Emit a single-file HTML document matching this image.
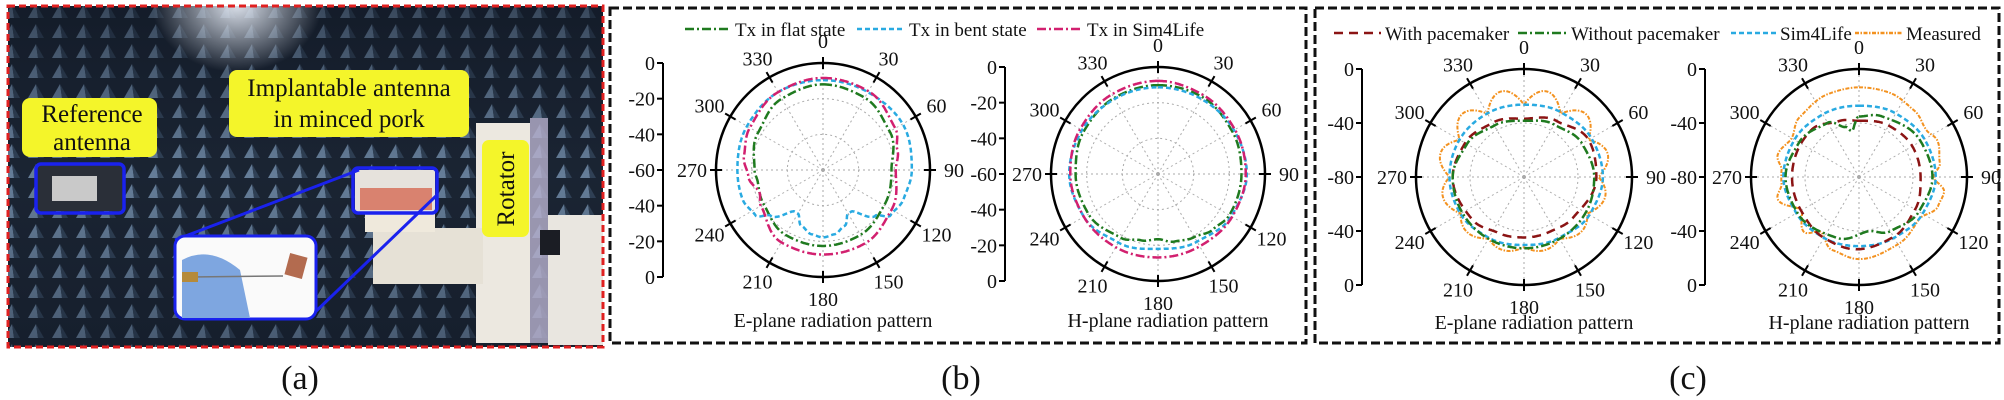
<!DOCTYPE html>
<html><head><meta charset="utf-8"><style>
html,body{margin:0;padding:0;background:#fff;}
svg{display:block;}
text{font-family:"Liberation Serif",serif;fill:#111;}
</style></head><body>
<svg id="s" width="2004" height="400" viewBox="0 0 2004 400" xmlns="http://www.w3.org/2000/svg">
<defs>
<pattern id="pyr" width="24" height="20" patternUnits="userSpaceOnUse">
<rect width="24" height="20" fill="#1c2635"/>
<polygon points="4,18 12,4 14,18" fill="#6f89a6"/>
<polygon points="12,4 20,18 14,18" fill="#34465c"/>
</pattern>
<radialGradient id="glow" cx="237" cy="4" r="85" gradientUnits="userSpaceOnUse" gradientTransform="translate(237 4) scale(1 0.8) translate(-237 -4)">
<stop offset="0" stop-color="#e8eef8" stop-opacity="0.95"/>
<stop offset="1" stop-color="#e8eef8" stop-opacity="0"/>
</radialGradient>
<linearGradient id="shade" x1="0" y1="0" x2="0" y2="1">
<stop offset="0" stop-color="#0d1420" stop-opacity="0.55"/>
<stop offset="0.5" stop-color="#0d1420" stop-opacity="0.1"/>
<stop offset="1" stop-color="#0d1420" stop-opacity="0.4"/>
</linearGradient>
</defs>
<!-- (a) photo -->
<rect x="8" y="6" width="595" height="341" fill="url(#pyr)"/>
<rect x="8" y="6" width="595" height="341" fill="url(#shade)"/>
<rect x="8" y="6" width="595" height="341" fill="url(#glow)"/>
<!-- rotator structure -->
<rect x="530" y="118" width="18" height="225" fill="#b9b3d0" opacity="0.8"/>
<rect x="548" y="215" width="55" height="130" fill="#e9e6e0"/>
<rect x="476" y="123" width="54" height="220" fill="#ece8e0"/>
<rect x="373" y="228" width="110" height="56" fill="#e6e1d6"/>
<rect x="540" y="230" width="20" height="25" fill="#1b1d24"/>
<rect x="365" y="212" width="70" height="20" fill="#efe9dc"/>
<!-- pork box -->
<rect x="355" y="170" width="80" height="42" fill="#e6e2dc"/>
<rect x="360" y="188" width="72" height="22" fill="#d9826f"/>
<!-- reference antenna -->
<rect x="37" y="165" width="85" height="46" fill="#2a2f38"/>
<rect x="52" y="176" width="45" height="25" fill="#c9c9c9"/>
<!-- inset -->
<line x1="175" y1="240" x2="359" y2="170" stroke="#1a22ee" stroke-width="3"/>
<line x1="310" y1="317" x2="437" y2="195" stroke="#1a22ee" stroke-width="3"/>
<rect x="175" y="236" width="141" height="83" rx="10" fill="#fafafa" stroke="#1a22ee" stroke-width="3"/>
<path d="M182,260 Q210,245 240,270 L250,318 L182,318 Z" fill="#7ea6e0"/>
<line x1="190" y1="277" x2="283" y2="276" stroke="#777" stroke-width="1.5"/>
<rect x="287" y="255" width="18" height="22" fill="#b36b4f" transform="rotate(15 296 266)"/>
<rect x="182" y="272" width="16" height="10" fill="#b58a3a"/>
<rect x="36" y="164" width="88" height="49" rx="5" fill="none" stroke="#1a22ee" stroke-width="3.5"/>
<rect x="353" y="168" width="84" height="45" rx="5" fill="none" stroke="#1a22ee" stroke-width="3.5"/>
<!-- yellow labels -->
<rect x="22" y="98" width="135" height="59" rx="8" fill="#f4f52a"/>
<text x="92" y="122" font-size="25" text-anchor="middle">Reference</text>
<text x="92" y="150" font-size="25" text-anchor="middle">antenna</text>
<rect x="229" y="70" width="240" height="67" rx="8" fill="#f4f52a"/>
<text x="349" y="96" font-size="25" text-anchor="middle">Implantable antenna</text>
<text x="349" y="127" font-size="25" text-anchor="middle">in minced pork</text>
<rect x="482" y="140" width="47" height="97" rx="7" fill="#f4f52a"/>
<text x="0" y="0" font-size="25" text-anchor="middle" transform="translate(514 189) rotate(-90)">Rotator</text>
<rect x="8" y="6" width="595" height="341" fill="none" stroke="#e02020" stroke-width="3" stroke-dasharray="7 4"/>
<!-- frames -->
<rect x="610" y="8" width="696" height="335" fill="none" stroke="#111" stroke-width="3" stroke-dasharray="9 4"/>
<rect x="1315" y="8" width="684" height="335" fill="none" stroke="#111" stroke-width="3" stroke-dasharray="9 4"/>
<text x="300" y="389" font-size="34" text-anchor="middle">(a)</text>
<text x="961" y="389" font-size="34" text-anchor="middle">(b)</text>
<text x="1688" y="389" font-size="34" text-anchor="middle">(c)</text>
<g id="plots"></g>
</svg>
<script>
var NS="http://www.w3.org/2000/svg",G=document.getElementById("plots");
function el(t,a,txt){var e=document.createElementNS(NS,t);for(var k in a)e.setAttribute(k,a[k]);if(txt!==undefined)e.textContent=txt;G.appendChild(e);return e;}
var C={g:["#1f7a1f","9 3 2 3"],b:["#29aae1","5 3"],m:["#d2206f","9 3 2 3"],br:["#8b1414","9 6"],o:["#f39220","4 1.5 1.5 1.5"]};
function legendItem(x1,x2,y,c,txt){el("line",{x1:x1,y1:y,x2:x2,y2:y,stroke:C[c][0],"stroke-width":2.5,"stroke-dasharray":C[c][1]});el("text",{x:x2+4,y:y+7,"font-size":19},txt);}
legendItem(685,731,29,"g","Tx in flat state");legendItem(857,905,29,"b","Tx in bent state");legendItem(1037,1083,29,"m","Tx in Sim4Life");
legendItem(1334,1381,33,"br","With pacemaker");legendItem(1518,1567,33,"g","Without pacemaker");legendItem(1731,1776,33,"b","Sim4Life");legendItem(1855,1902,33,"o","Measured");
function interp(p,a){for(var i=0;i<p.length;i++){var a0=p[i][0],r0=p[i][1],n=p[(i+1)%p.length],a1=n[0]+(i==p.length-1?360:0);if(a>=a0&&a<=a1){var u=(a-a0)/(a1-a0);u=(1-Math.cos(u*Math.PI))/2;return r0+(n[1]-r0)*u;}}return p[0][1];}
function curve(cx,cy,R,f,c,w){var d="";for(var a=0;a<=360;a+=0.5){var r=f(a%360)*R,t=a*Math.PI/180;d+=(a?"L":"M")+(cx+r*Math.sin(t)).toFixed(1)+","+(cy-r*Math.cos(t)).toFixed(1);}el("path",{d:d+"Z",fill:"none",stroke:C[c][0],"stroke-width":w||2.5,"stroke-dasharray":C[c][1]});}
function polar(cx,cy,R,barX,labs,grid,title,ty,curves){
 grid.forEach(function(g){el("circle",{cx:cx,cy:cy,r:R*g,fill:"none",stroke:"#aaa","stroke-width":1,"stroke-dasharray":"2 3"});});
 for(var a=0;a<360;a+=30){var t=a*Math.PI/180,s=Math.sin(t),c=Math.cos(t);
  el("line",{x1:cx,y1:cy,x2:cx+R*s,y2:cy-R*c,stroke:"#aaa","stroke-width":1,"stroke-dasharray":"2 3"});
  el("line",{x1:cx+(R-6)*s,y1:cy-(R-6)*c,x2:cx+(R+6)*s,y2:cy-(R+6)*c,stroke:"#000","stroke-width":2});
  el("text",{x:cx+(R+24)*s,y:cy-(R+22)*c+7,"font-size":20,"text-anchor":"middle"},""+a);}
 curves.forEach(function(k){curve(cx,cy,R,k[0],k[1],k[2]);});
 el("circle",{cx:cx,cy:cy,r:R,fill:"none",stroke:"#000","stroke-width":2.5});
 el("line",{x1:barX,y1:cy-R,x2:barX,y2:cy+R,stroke:"#000","stroke-width":2});
 for(var i=0;i<labs.length;i++){var y=cy-R+i*2*R/(labs.length-1);el("line",{x1:barX-6,y1:y,x2:barX,y2:y,stroke:"#000","stroke-width":2});el("text",{x:barX-8,y:y+7,"font-size":20,"text-anchor":"end"},labs[i]);}
 el("text",{x:cx+10,y:ty,"font-size":20,"text-anchor":"middle"},title);}
function P(p){return function(a){return interp(p,a);};}
var bl=["0","-20","-40","-60","-40","-20","0"],cl=["0","-40","-80","-40","0"];
polar(823,170,107,663,bl,[1/3,2/3],"E-plane radiation pattern",327,[
 [P([[0,.80],[30,.78],[60,.72],[90,.64],[120,.66],[150,.70],[180,.71],[210,.70],[240,.64],[260,.62],[270,.64],[300,.70],[330,.77]]),"g"],
 [P([[0,.84],[30,.84],[60,.86],[90,.83],[110,.80],[124,.76],[131,.65],[146,.47],[150,.47],[159,.56],[170,.61],[180,.63],[190,.61],[201,.56],[210,.47],[214,.47],[229,.65],[236,.76],[250,.80],[270,.80],[300,.82],[330,.84]]),"b"],
 [P([[0,.86],[30,.85],[60,.78],[75,.72],[90,.68],[120,.74],[150,.79],[180,.79],[210,.78],[240,.67],[250,.63],[265,.70],[280,.75],[300,.79],[330,.84]]),"m"]]);
polar(1158,174,107,1005,bl,[1/3,2/3],"H-plane radiation pattern",327,[
 [P([[0,.83],[30,.83],[60,.80],[90,.78],[120,.77],[135,.73],[150,.68],[166,.65],[180,.61],[195,.64],[210,.69],[240,.75],[270,.77],[300,.80],[330,.82]]),"g"],
 [P([[0,.81],[30,.81],[60,.82],[90,.83],[120,.79],[150,.73],[180,.70],[210,.74],[240,.80],[270,.83],[300,.82],[330,.81]]),"b"],
 [P([[0,.87],[30,.85],[60,.83],[90,.82],[120,.80],[150,.78],[180,.78],[210,.79],[240,.80],[270,.82],[300,.84],[330,.86]]),"m"]]);
polar(1524,177,108,1362,cl,[.5],"E-plane radiation pattern",329,[
 [function(a){var t=a*Math.PI/180,c=Math.cos(t),s=Math.sin(t);return .67+.03*s*s-.02*(1-c)/2+(.10+.05*c)*Math.abs(Math.sin(6*t));},"o",2],
 [P([[0,.67],[30,.69],[60,.72],[90,.73],[120,.70],[150,.65],[180,.63],[210,.65],[240,.68],[270,.69],[300,.69],[330,.68]]),"b"],
 [P([[0,.54],[30,.60],[60,.69],[90,.67],[130,.59],[155,.56],[180,.56],[205,.57],[230,.62],[270,.66],[300,.63],[330,.58]]),"br"],
 [P([[0,.52],[30,.56],[60,.62],[90,.65],[120,.66],[150,.66],[180,.66],[210,.66],[240,.66],[270,.66],[300,.61],[330,.55]]),"g"]]);
polar(1859,177,108,1705,cl,[.5],"H-plane radiation pattern",329,[
 [P([[0,.83],[20,.83],[40,.80],[55,.76],[65,.80],[80,.76],[90,.69],[100,.80],[110,.78],[125,.68],[150,.72],[180,.76],[200,.72],[215,.62],[225,.72],[240,.62],[255,.78],[265,.72],[275,.72],[285,.78],[300,.72],[315,.78],[340,.82]]),"o",2],
 [P([[0,.66],[30,.68],[60,.70],[90,.71],[120,.68],[150,.65],[180,.64],[210,.65],[240,.67],[270,.70],[300,.69],[330,.67]]),"b"],
 [P([[0,.52],[30,.55],[60,.57],[90,.57],[120,.60],[150,.64],[185,.67],[210,.65],[240,.62],[270,.62],[315,.62],[340,.55]]),"br"],
 [P([[0,.56],[20,.60],[60,.66],[90,.68],[120,.64],[150,.58],[170,.51],[200,.60],[240,.66],[270,.68],[300,.64],[330,.58],[345,.48],[351,.43]]),"g"]]);
</script>
</body></html>
